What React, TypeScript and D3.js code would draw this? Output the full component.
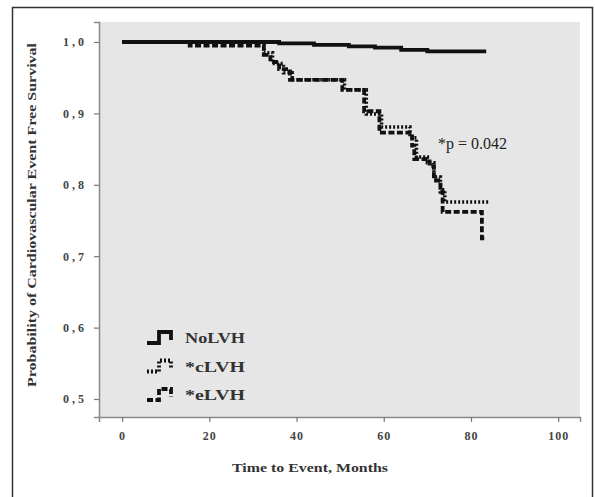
import React, { useEffect, useRef } from "react";
import * as d3 from "d3";

// Kaplan-Meier steps: month at which the step happens, survival after it
const noLvhMonths = [0, 36, 44, 52, 58, 64, 70, 83.5];
const noLvhSurv = [1.0, 0.998, 0.996, 0.994, 0.992, 0.989, 0.987, 0.987];

const cLvhMonths = [0, 32.5, 34.5, 37, 39, 51, 56, 59.5, 66, 67.5, 70, 71.5, 73, 74, 84];
const cLvhSurv = [1.0, 0.985, 0.97, 0.957, 0.947, 0.933, 0.899, 0.881, 0.866, 0.839, 0.831, 0.811, 0.793, 0.776, 0.776];

const eLvhMonths = [0, 15.5, 32.5, 34, 36, 38.5, 50.5, 55.5, 59, 66.5, 67, 70.5, 71.5, 73, 73.5, 82.5, 83.5];
const eLvhSurv = [1.0, 0.995, 0.982, 0.972, 0.962, 0.947, 0.933, 0.903, 0.873, 0.855, 0.836, 0.826, 0.806, 0.79, 0.762, 0.725, 0.725];

const xTicks = [0, 20, 40, 60, 80, 100];
const yTicks = [0.5, 0.6, 0.7, 0.8, 0.9, 1.0];
const legendLabels = ["NoLVH", "*cLVH", "*eLVH"];
const pValueLabel = "*p = 0.042";

export default function App() {
  const ref = useRef<SVGSVGElement>(null);

  useEffect(() => {
    const svg = d3.select(ref.current);
    svg.selectAll("*").remove();

    const H = 497;
    const plot = { left: 99, right: 580, top: 22, bottom: 417 };
    const font = "'Liberation Serif', 'Times New Roman', serif";

    // outer frame
    svg.append("rect")
      .attr("x", 12.5).attr("y", 7.5)
      .attr("width", 580).attr("height", H + 10)
      .attr("fill", "#fff")
      .attr("stroke", "#333").attr("stroke-width", 1.5);

    svg.append("rect")
      .attr("x", plot.left).attr("y", plot.top)
      .attr("width", plot.right - plot.left).attr("height", plot.bottom - plot.top)
      .attr("fill", "#e6e6e6");

    const x = d3.scaleLinear().domain([-5.3, 105]).range([plot.left, plot.right]);
    const y = d3.scaleLinear().domain([0.4748, 1.028]).range([plot.bottom, plot.top]);

    // axes
    const yAxis = svg.append("g")
      .attr("transform", `translate(${plot.left},0)`)
      .call(d3.axisLeft(y).tickValues(yTicks).tickSize(5).tickPadding(7)
        .tickFormat(d => d3.format(".1f")(d as number).replace(".", ",")));
    const xAxis = svg.append("g")
      .attr("transform", `translate(0,${plot.bottom})`)
      .call(d3.axisBottom(x).tickValues(xTicks).tickSize(5).tickPadding(9)
        .tickFormat(d3.format("d")));
    [yAxis, xAxis].forEach(a => {
      a.select(".domain").attr("stroke", "#8a8a8a").attr("stroke-width", 1.5);
      a.selectAll(".tick line").attr("stroke", "#777").attr("stroke-width", 1.2);
      a.selectAll(".tick text")
        .attr("font-family", font).attr("font-size", 12).attr("font-weight", "bold")
        .attr("fill", "#444");
    });
    yAxis.selectAll(".tick text").attr("letter-spacing", 3);
    xAxis.selectAll(".tick text").attr("letter-spacing", 1);

    // axis titles
    svg.append("text")
      .attr("x", 310).attr("y", 472)
      .attr("text-anchor", "middle")
      .attr("font-family", font).attr("font-size", 13).attr("font-weight", "bold")
      .attr("fill", "#333")
      .attr("textLength", 156).attr("lengthAdjust", "spacingAndGlyphs")
      .text("Time to Event, Months");
    svg.append("text")
      .attr("transform", `translate(36,215) rotate(-90)`)
      .attr("text-anchor", "middle")
      .attr("font-family", font).attr("font-size", 13).attr("font-weight", "bold")
      .attr("fill", "#333")
      .attr("textLength", 344).attr("lengthAdjust", "spacingAndGlyphs")
      .text("Probability of Cardiovascular Event Free Survival");

    // curves
    const line = d3.line<[number, number]>()
      .x(d => x(d[0]))
      .y(d => y(d[1]))
      .curve(d3.curveStepAfter);

    const series = [
      { months: noLvhMonths, surv: noLvhSurv, dash: null, width: 3.8 },
      { months: cLvhMonths, surv: cLvhSurv, dash: "2,2", width: 3.5 },
      { months: eLvhMonths, surv: eLvhSurv, dash: "6,2.5", width: 3.8 },
    ];

    series.forEach(s => {
      const pts = s.months.map((m, i) => [m, s.surv[i]] as [number, number]);
      svg.append("path")
        .attr("d", line(pts))
        .attr("fill", "none")
        .attr("stroke", "#111")
        .attr("stroke-width", s.width)
        .attr("stroke-dasharray", s.dash);
    });

    // p value
    svg.append("text")
      .attr("x", 438).attr("y", 149)
      .attr("font-family", font).attr("font-size", 16)
      .attr("fill", "#222")
      .text(pValueLabel);

    // legend
    const glyph = d3.line<[number, number]>().curve(d3.curveStepAfter);
    const glyphPts: [number, number][] = [[0, 5], [12, -6], [24, 2], [24, 2]];
    const legend = svg.append("g").attr("transform", "translate(147,338)");
    legendLabels.forEach((lab, i) => {
      const g = legend.append("g").attr("transform", `translate(0,${i * 28.5})`);
      g.append("path")
        .attr("d", glyph(glyphPts))
        .attr("fill", "none")
        .attr("stroke", "#111")
        .attr("stroke-width", 3.8)
        .attr("stroke-dasharray", series[i].dash);
      g.append("text")
        .attr("x", 38).attr("y", 5)
        .attr("font-family", font).attr("font-size", 14).attr("font-weight", "bold")
        .attr("fill", "#333")
        .attr("textLength", 60).attr("lengthAdjust", "spacingAndGlyphs")
        .text(lab);
    });
  }, []);

  return (
    <svg ref={ref} width={595} height={497}
      style={{ position: "absolute", left: 0, top: 0, background: "#fff" }} />
  );
}
